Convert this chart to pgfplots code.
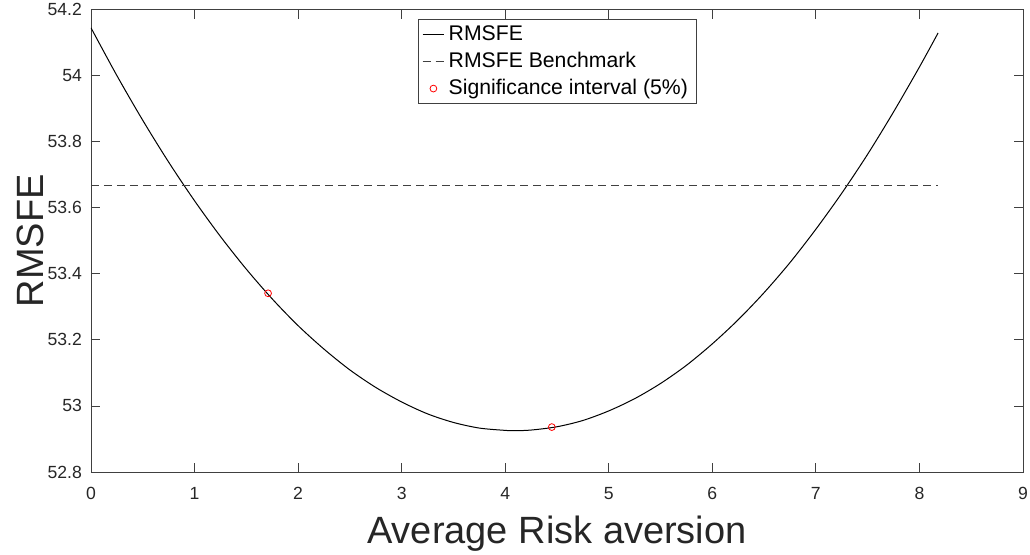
\documentclass[border=0pt]{standalone}
\usepackage{pgfplots}
\pgfplotsset{compat=1.18}
\usepackage{fontspec}
\setmainfont{Liberation Sans}
\definecolor{axgray}{gray}{0.25}
\begin{document}
\begin{tikzpicture}
\begin{axis}[
  scale only axis, width=466pt, height=231.25pt,
  xmin=0, xmax=9, ymin=52.8, ymax=54.2,
  xtick={0,1,...,9},
  ytick={52.8,53,53.2,53.4,53.6,53.8,54,54.2},
  tick align=inside, major tick length=4.5pt,
  axis line style={axgray, line width=0.4pt},
  every tick/.style={axgray, line width=0.4pt},
  /pgf/number format/assume math mode=true,
  tick label style={font=\fontsize{8.8}{10}\selectfont, text=black!85},
  yticklabel style={xshift=-1pt},
  xticklabel style={yshift=-4pt},
  xlabel={Average Risk aversion},
  ylabel={RMSFE},
  xlabel style={font=\fontsize{19}{22}\selectfont, at={(axis description cs:0.5,0)}, anchor=base, yshift=-35.5pt, text=black!85},
  ylabel style={font=\fontsize{19}{22}\selectfont, at={(axis description cs:0,0.5)}, anchor=center, yshift=30.5pt, text=black!85},
  legend style={at={(axis description cs:0.5,0.979)}, anchor=north, draw=axgray, line width=0.4pt,
    font=\fontsize{10.6}{12}\selectfont, row sep=0.4pt, inner xsep=2pt, inner ysep=1pt},
  legend cell align=left,
  legend image code/.code={\draw[mark repeat=2, mark phase=2, #1] plot coordinates {(0cm,0cm) (0.19cm,0cm) (0.38cm,0cm)};},
]
\addplot[black, line width=0.5pt, smooth] coordinates {
(0,54.1445) (0.25,54.000) (0.5,53.8645) (0.75,53.738) (1.0,53.621)
(1.25,53.513) (1.5,53.414) (1.75,53.324) (2.0,53.243) (2.25,53.172)
(2.5,53.109) (2.75,53.056) (3.0,53.012) (3.25,52.976) (3.5,52.950)
(3.75,52.933) (4.0,52.926) (4.09,52.925) (4.25,52.927) (4.5,52.937)
(4.75,52.956) (5.0,52.985) (5.25,53.022) (5.5,53.068) (5.75,53.123)
(6.0,53.188) (6.25,53.261) (6.5,53.343) (6.75,53.434) (7.0,53.535)
(7.25,53.644) (7.5,53.762) (7.75,53.890) (8.0,54.026) (8.18,54.129)
};
\addlegendentry{RMSFE}
\addplot[black!75, line width=0.5pt, dash pattern=on 4pt off 2.5pt] coordinates {(0,53.667) (8.18,53.667)};
\addlegendentry{RMSFE Benchmark}
\addplot[only marks, mark=o, mark size=1.7pt, red, mark options={line width=0.4pt}] coordinates {(1.71,53.341) (4.45,52.936)};
\addlegendentry{Significance interval (5\%)}
\end{axis}
\pgfresetboundingbox
\path[use as bounding box] (-45.5pt,-41pt) rectangle (469.5pt,236pt);
\end{tikzpicture}
\end{document}
